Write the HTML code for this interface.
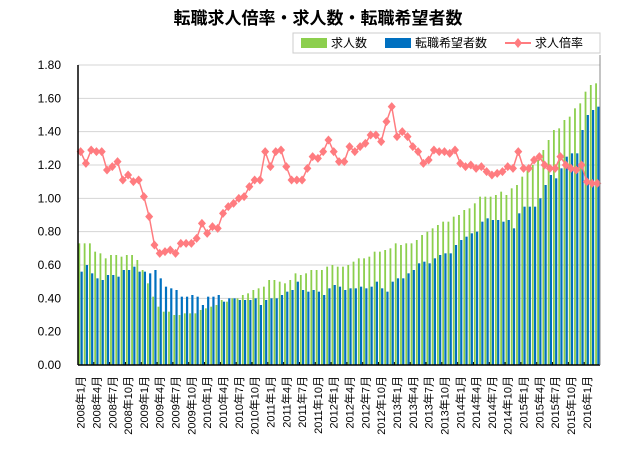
<!DOCTYPE html>
<html><head><meta charset="utf-8"><style>
body{margin:0;background:#fff;font-family:"Liberation Sans","Noto Sans CJK JP",sans-serif;}
</style></head><body>
<svg id="chart" width="635" height="455" xmlns="http://www.w3.org/2000/svg" font-family="Liberation Sans, Noto Sans CJK JP, sans-serif">
<text x="318" y="24" text-anchor="middle" font-size="17" font-weight="bold">転職求人倍率・求人数・転職希望者数</text>
<g>
<rect x="293" y="33" width="307" height="20" fill="#fff" stroke="#ccc"/>
<rect x="301" y="38" width="26" height="10" fill="#8CCF4D"/>
<text x="331" y="47" font-size="12">求人数</text>
<rect x="385" y="38" width="26" height="10" fill="#0070C0"/>
<text x="415" y="47" font-size="12">転職希望者数</text>
<line x1="505" y1="43" x2="531" y2="43" stroke="#FF7C80" stroke-width="2"/>
<path d="M518 38 L522 43 L518 48 L514 43 Z" fill="#FF7C80"/>
<text x="535" y="47" font-size="12">求人倍率</text>
</g>
<g id="grid"></g><g id="bars"></g><g id="line"></g><g id="axes"></g>
</svg>
<script>
const ratio=[1.28,1.21,1.29,1.28,1.28,1.17,1.19,1.22,1.11,1.14,1.10,1.11,1.01,0.89,0.72,0.67,0.68,0.69,0.67,0.73,0.73,0.73,0.76,0.85,0.79,0.83,0.82,0.91,0.95,0.97,1.00,1.01,1.07,
1.11,1.11,1.28,1.19,1.28,1.29,1.19,1.11,1.11,1.11,1.18,1.25,1.24,1.28,1.35,1.28,1.22,1.22,1.31,1.28,1.31,1.33,1.38,1.38,1.34,1.46,1.55,1.37,1.40,1.37,1.31,1.28,
1.21,1.23,1.29,1.28,1.28,1.27,1.29,1.21,1.19,1.20,1.18,1.19,1.16,1.14,1.15,1.16,1.19,1.18,1.28,1.18,1.18,1.23,1.25,1.20,1.18,1.18,1.25,1.20,1.18,1.17,1.20,1.10,1.09,1.09];
const jobs=[0.73,0.73,0.73,0.68,0.67,0.64,0.66,0.66,0.65,0.66,0.66,0.63,0.57,0.49,0.41,0.35,0.32,0.32,0.30,0.30,0.31,0.31,0.31,0.33,0.34,0.35,0.36,0.39,0.38,0.40,0.40,
0.42,0.43,0.45,0.46,0.47,0.51,0.51,0.50,0.49,0.51,0.55,0.54,0.55,0.57,0.57,0.57,0.59,0.60,0.59,0.59,0.60,0.62,0.64,0.64,0.65,0.68,0.68,0.69,0.70,0.73,0.72,0.73,0.73,
0.75,0.78,0.80,0.82,0.84,0.86,0.86,0.89,0.90,0.93,0.94,0.97,1.01,1.01,1.01,1.02,1.04,1.02,1.06,1.08,1.13,1.18,1.20,1.23,1.29,1.35,1.41,1.42,1.47,1.49,1.54,1.57,1.64,1.68,1.69];
const seekers=[0.56,0.60,0.55,0.52,0.51,0.54,0.54,0.53,0.57,0.57,0.59,0.56,0.56,0.55,0.57,0.52,0.47,0.46,0.45,0.41,0.41,0.42,0.41,0.36,0.41,0.41,0.42,0.38,0.40,0.40,0.39,
0.39,0.39,0.40,0.36,0.39,0.40,0.40,0.42,0.44,0.45,0.50,0.45,0.44,0.45,0.44,0.42,0.46,0.48,0.47,0.45,0.46,0.46,0.47,0.46,0.47,0.50,0.46,0.44,0.50,0.52,0.52,0.55,0.57,
0.61,0.62,0.61,0.64,0.66,0.67,0.67,0.72,0.75,0.77,0.79,0.80,0.86,0.88,0.87,0.87,0.86,0.87,0.82,0.91,0.95,0.95,0.95,1.00,1.08,1.14,1.12,1.18,1.25,1.27,1.27,1.41,1.50,1.53,1.55];
const yTicks=[0,0.2,0.4,0.6,0.8,1.0,1.2,1.4,1.6,1.8];
const startYear=2008;
const categories=ratio.map((_,i)=>(startYear+Math.floor(i/12))+'年'+(i%12+1)+'月');

const NS='http://www.w3.org/2000/svg';
const L=78,R=600,T=65,B=365,yMax=1.8;
const band=(R-L)/categories.length;
const x=i=>L+band*(i+0.5);
const y=v=>B-(v/yMax)*(B-T);
function mk(tag,attrs,parent){const e=document.createElementNS(NS,tag);for(const k in attrs)e.setAttribute(k,attrs[k]);document.getElementById(parent).appendChild(e);return e;}

yTicks.forEach(t=>{
  const g=mk('line',{x1:L,x2:R,y1:y(t),y2:y(t),stroke:'#d4d4d4','stroke-width':1},'grid');
  
  
  const tx=mk('text',{x:L-17,y:y(t)+4,'text-anchor':'end','font-size':12},'axes');
  tx.textContent=t.toFixed(2);
  
  
});
categories.forEach((c,i)=>{
  const bx=x(i);
  const g=mk('rect',{x:bx-2.2,y:y(jobs[i]),width:1.8,height:B-y(jobs[i]),fill:'#8CCF4D'},'bars');
  
  
  const b=mk('rect',{x:bx-0.1,y:y(seekers[i]),width:2.2,height:B-y(seekers[i]),fill:'#0070C0'},'bars');
  
  
  if(i%3===0){
    const lb=mk('text',{x:0,y:0,'font-size':11,'text-anchor':'end',transform:'translate('+(bx+4)+',376) rotate(-90)'},'axes');
    lb.textContent=c;
    
    
    const tk=mk('line',{x1:L+band*i,x2:L+band*i,y1:B,y2:B-3,stroke:'#000'},'axes');
    
    
  }
});
const pl=mk('polyline',{points:ratio.map((v,i)=>x(i)+','+y(v)).join(' '),fill:'none',stroke:'#FF7C80','stroke-width':1.5},'line');


ratio.forEach((v,i)=>{
  const cx=x(i),cy=y(v);
  const m=mk('path',{d:`M${cx} ${cy-4.5} L${cx+4} ${cy} L${cx} ${cy+4.5} L${cx-4} ${cy} Z`,fill:'#FF7C80'},'line');
  
  
});
const ax=mk('line',{x1:L,x2:L,y1:T,y2:B,stroke:'#000','stroke-width':1.5},'axes');


const ax2=mk('line',{x1:L,x2:R,y1:B,y2:B,stroke:'#000','stroke-width':1.5},'axes');


const ax3=mk('line',{x1:R,x2:R,y1:T-10,y2:B,stroke:'#888','stroke-width':1},'axes');


</script>
</body></html>
